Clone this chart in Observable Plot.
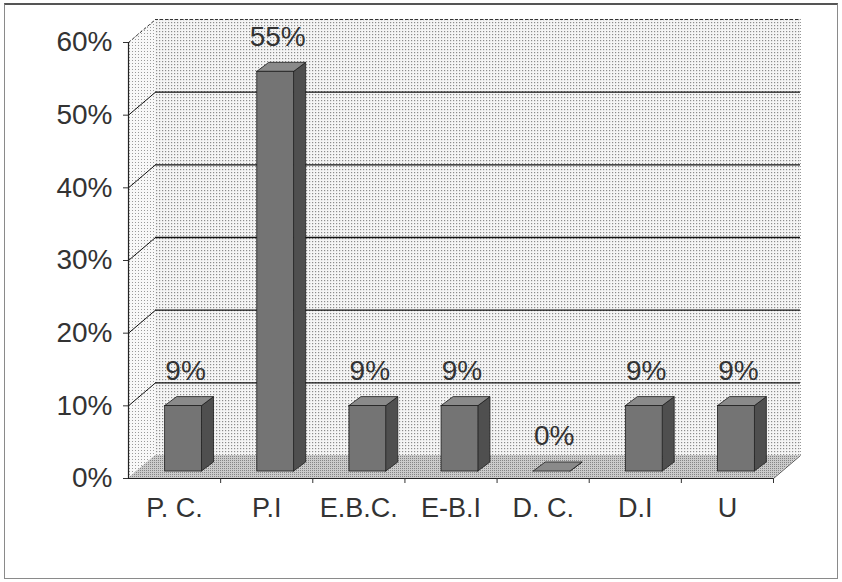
<!DOCTYPE html>
<html><head><meta charset="utf-8">
<script src="https://cdn.jsdelivr.net/npm/d3@7"></script>
<script src="https://cdn.jsdelivr.net/npm/@observablehq/plot@0.6"></script>
<style>
html,body{margin:0;padding:0;background:#fff;}
#wrap{position:relative;width:842px;height:582px;overflow:hidden;}
#border{position:absolute;left:4px;top:3px;width:832px;height:573px;border:1px solid #8a8a8a;border-top:2px solid #555;pointer-events:none;}
</style></head><body>
<div id="wrap"><div id="chart"></div><div id="border"></div></div>
<script>
const categories = ["P. C.", "P.I", "E.B.C.", "E-B.I", "D. C.", "D.I", "U"];
const values = [0.09, 0.55, 0.09, 0.09, 0, 0.09, 0.09];
const yTicks = [0, 0.1, 0.2, 0.3, 0.4, 0.5, 0.6];
const gridLevels = [0.1, 0.2, 0.3, 0.4, 0.5];
const topLevel = [0.6];

const W = 842, H = 582, mL = 128, mR = 69, mT = 42, mB = 104;
const pxX = (W - mL - mR) / categories.length;
const pxY = (H - mT - mB) / 0.6;
// depth of the 3-D box in px
const wallDX = 27, wallDY = 23;
const wx = wallDX / pxX, wy = wallDY / pxY;
// bar placement inside the depth
const barHalf = 0.2, barDX = 9, barDY = 7, sideDX = 12, sideDY = 9;
const sx = sideDX / pxX, sy = sideDY / pxY;

const bars = categories.map((c, i) => ({c, i, v: values[i], x1: i + 0.5 - barHalf, x2: i + 0.5 + barHalf}));
const sideFaces = bars.flatMap(b => [
  {id: b.i, x: b.x2, y1: 0, y2: b.v},
  {id: b.i, x: b.x2 + sx, y1: sy, y2: b.v + sy}
]);
const topFaces = bars.flatMap(b => [
  {id: b.i, x: b.x1, y1: b.v, y2: b.v},
  {id: b.i, x: b.x1 + sx, y1: b.v, y2: b.v + sy},
  {id: b.i, x: b.x2, y1: b.v, y2: b.v + sy},
  {id: b.i, x: b.x2 + sx, y1: b.v + sy, y2: b.v + sy}
]);
const leftWall = [{x: 0, y1: 0, y2: 0.6}, {x: wx, y1: wy, y2: 0.6 + wy}];
const floor = [
  {x: 0, y1: 0, y2: 0},
  {x: wx, y1: 0, y2: wy},
  {x: categories.length, y1: 0, y2: wy},
  {x: categories.length + wx, y1: wy, y2: wy}
];
const n = categories.length;
const pct = d3.format(".0%");
const ink = "#333";

const svg = Plot.plot({
  width: W, height: H,
  marginLeft: mL, marginRight: mR, marginTop: mT, marginBottom: mB,
  x: {domain: [0, n]},
  y: {domain: [0, 0.6]},
  style: {fontFamily: "'Liberation Sans', Arial, sans-serif", color: ink, background: "transparent", overflow: "visible"},
  marks: [
    // back wall
    Plot.rect([0], {x1: 0, x2: n, y1: 0, y2: 0.6, dx: wallDX, dy: -wallDY, fill: "url(#wallpat)"}),
    // left wall
    Plot.area(leftWall, {x1: "x", y1: "y1", y2: "y2", fill: "url(#sidepat)"}),
    // floor
    Plot.area(floor, {x1: "x", y1: "y1", y2: "y2", fill: "url(#floorpat)"}),
    // back wall gridlines
    Plot.ruleY(gridLevels, {x1: 0, x2: n, dx: wallDX, dy: -wallDY, stroke: "#111", strokeWidth: 1.4}),
    Plot.ruleY(topLevel, {x1: 0, x2: n, dx: wallDX, dy: -wallDY, stroke: "#333", strokeWidth: 1.2, strokeDasharray: "3,2"}),
    Plot.ruleX([n], {y1: 0, y2: 0.6, dx: wallDX, dy: -wallDY, stroke: "#999", strokeDasharray: "1,2"}),
    // left wall diagonals
    Plot.link(gridLevels, {x1: 0, y1: d => d, x2: wx, y2: d => d + wy, stroke: "#111", strokeWidth: 1}),
    Plot.link(topLevel, {x1: 0, y1: d => d, x2: wx, y2: d => d + wy, stroke: "#333", strokeDasharray: "3,2"}),
    // floor right edge
    Plot.link([0], {x1: n, y1: 0, x2: n + wx, y2: wy, stroke: "#555"}),
    // axes
    Plot.ruleX([0], {y1: 0, y2: 0.6, stroke: "#222", strokeWidth: 1.2}),
    Plot.ruleY([0], {x1: 0, x2: n, stroke: "#222", strokeWidth: 1.2}),
    Plot.axisY({ticks: yTicks, tickFormat: pct, tickSize: 5, tickPadding: 11, fontSize: 28, label: null}),
    Plot.axisX({ticks: categories.map((c, i) => i + 0.5), tickFormat: d => categories[Math.round(d - 0.5)], tickSize: 0, tickPadding: 19, fontSize: 27, label: null}),
    Plot.axisX({ticks: categories.map((c, i) => i + 1), tickFormat: () => "", tickSize: 5, label: null}),
    // bars
    Plot.area(sideFaces, {x1: "x", y1: "y1", y2: "y2", z: "id", dx: barDX, dy: -barDY, fill: "#4f4f4f", stroke: "#1e1e1e", strokeWidth: 0.8}),
    Plot.area(topFaces, {x1: "x", y1: "y1", y2: "y2", z: "id", dx: barDX, dy: -barDY, fill: "#8a8a8a", stroke: "#1e1e1e", strokeWidth: 0.8}),
    Plot.rect(bars, {x1: "x1", x2: "x2", y1: 0, y2: "v", dx: barDX, dy: -barDY, fill: "#747474", stroke: "#1e1e1e", strokeWidth: 0.8}),
    // value labels
    Plot.text(bars, {x: d => d.i + 0.5, y: "v", text: d => pct(d.v), dx: barDX + 2, dy: -42, fontSize: 28, fill: ink})
  ]
});

const defs = d3.select(svg).insert("defs", ":first-child");
const wp = defs.append("pattern").attr("id", "wallpat").attr("width", 3).attr("height", 3).attr("patternUnits", "userSpaceOnUse");
wp.append("rect").attr("width", 3).attr("height", 3).attr("fill", "#f5f5f5");
wp.append("rect").attr("width", 1.2).attr("height", 1.2).attr("fill", "#8c8c8c");
const sp = defs.append("pattern").attr("id", "sidepat").attr("width", 3).attr("height", 3).attr("patternUnits", "userSpaceOnUse");
sp.append("rect").attr("width", 3).attr("height", 3).attr("fill", "#f8f8f8");
sp.append("rect").attr("width", 1).attr("height", 1).attr("fill", "#9a9a9a");
const fp = defs.append("pattern").attr("id", "floorpat").attr("width", 2).attr("height", 2).attr("patternUnits", "userSpaceOnUse");
fp.append("rect").attr("width", 2).attr("height", 2).attr("fill", "#cbcbcb");
fp.append("rect").attr("width", 1).attr("height", 1).attr("fill", "#858585");

document.getElementById("chart").appendChild(svg);
</script>
</body></html>
